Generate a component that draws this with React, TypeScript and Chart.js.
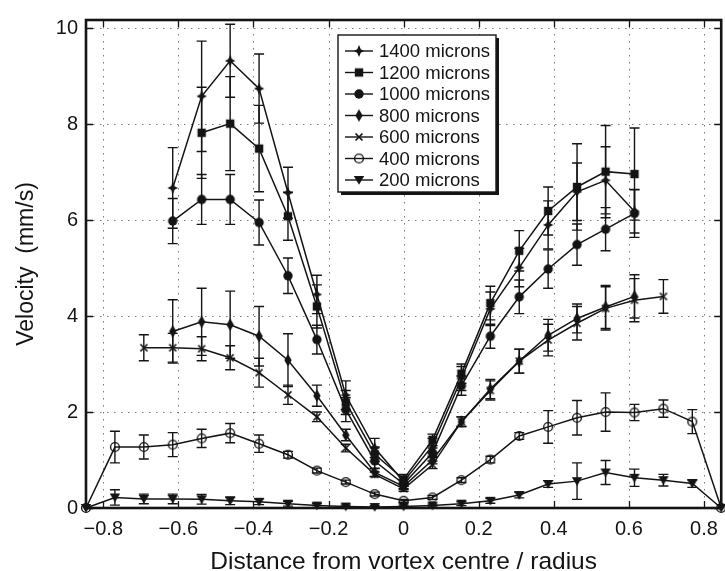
import React, { useEffect, useRef } from "react";
import { Chart, registerables } from "chart.js";

Chart.register(...registerables);

// x positions of the measurement stations (distance / radius)
const xPos = [-0.846, -0.769, -0.692, -0.615, -0.538, -0.462, -0.385, -0.308, -0.231, -0.154, -0.077, 0,
  0.077, 0.154, 0.231, 0.308, 0.385, 0.462, 0.538, 0.615, 0.692, 0.769, 0.846];

const xTicks = [-0.8, -0.6, -0.4, -0.2, 0, 0.2, 0.4, 0.6, 0.8];
const yTicks = [0, 2, 4, 6, 8, 10];

const seriesNames = ["1400 microns", "1200 microns", "1000 microns", "800 microns", "600 microns", "400 microns", "200 microns"];

const v1400 = [null, null, null, 6.67, 8.58, 9.32, 8.74, 6.57, 4.45, 2.35, 1.25, 0.55, 1.30, 2.70, 4.15, 5.01, 5.90, 6.59, 6.83, 6.18, null, null, null];
const e1400 = [null, null, null, 0.84, 1.15, 0.76, 0.72, 0.53, 0.40, 0.30, 0.20, 0.10, 0.15, 0.25, 0.35, 0.40, 0.50, 0.60, 0.70, 0.45, null, null, null];

const v1200 = [null, null, null, null, 7.82, 8.01, 7.49, 6.08, 4.20, 2.20, 1.12, 0.60, 1.42, 2.80, 4.27, 5.36, 6.19, 6.69, 7.01, 6.96, null, null, null];
const e1200 = [null, null, null, null, 0.95, 0.98, 0.90, 0.50, 0.45, 0.25, 0.15, 0.10, 0.12, 0.20, 0.35, 0.42, 0.50, 0.90, 0.96, 0.96, null, null, null];

const v1000 = [null, null, null, 5.98, 6.43, 6.43, 5.95, 4.84, 3.51, 2.05, 0.98, 0.50, 1.15, 2.55, 3.58, 4.40, 4.98, 5.49, 5.81, 6.14, null, null, null];
const e1000 = [null, null, null, 0.47, 0.52, 0.52, 0.47, 0.37, 0.30, 0.25, 0.15, 0.10, 0.10, 0.20, 0.25, 0.35, 0.40, 0.43, 0.45, 0.50, null, null, null];

const v800 = [null, null, null, 3.68, 3.88, 3.82, 3.58, 3.08, 2.34, 1.52, 0.74, 0.45, 1.00, 1.80, 2.48, 3.06, 3.60, 3.95, 4.19, 4.41, null, null, null];
const e800 = [null, null, null, 0.66, 0.70, 0.70, 0.62, 0.55, 0.22, 0.12, 0.08, 0.06, 0.08, 0.10, 0.20, 0.25, 0.33, 0.30, 0.45, 0.45, null, null, null];

const v600 = [null, null, 3.34, 3.34, 3.32, 3.13, 2.82, 2.36, 1.90, 1.25, 0.70, 0.40, 0.90, 1.80, 2.45, 3.06, 3.50, 3.85, 4.16, 4.33, 4.41, null, null];
const e600 = [null, null, 0.27, 0.30, 0.25, 0.25, 0.30, 0.20, 0.10, 0.08, 0.05, 0.05, 0.08, 0.10, 0.20, 0.25, 0.33, 0.35, 0.45, 0.45, 0.35, null, null];

const v400 = [0, 1.27, 1.27, 1.32, 1.45, 1.56, 1.34, 1.11, 0.78, 0.54, 0.29, 0.15, 0.22, 0.58, 1.01, 1.50, 1.69, 1.88, 2.00, 1.99, 2.07, 1.80, 0];
const e400 = [0, 0.33, 0.25, 0.25, 0.19, 0.20, 0.18, 0.07, 0.05, 0.04, 0.04, 0.03, 0.04, 0.05, 0.07, 0.07, 0.34, 0.36, 0.40, 0.17, 0.18, 0.25, 0];

const v200 = [0, 0.22, 0.19, 0.19, 0.18, 0.15, 0.13, 0.09, 0.05, 0.03, 0.02, 0.03, 0.05, 0.09, 0.15, 0.27, 0.50, 0.56, 0.74, 0.63, 0.58, 0.51, 0];
const e200 = [0, 0.16, 0.10, 0.10, 0.10, 0.08, 0.06, 0.05, 0.04, 0.03, 0.03, 0.03, 0.03, 0.04, 0.05, 0.06, 0.07, 0.38, 0.25, 0.18, 0.12, 0.08, 0];

const seriesValues = [v1400, v1200, v1000, v800, v600, v400, v200];
const seriesErrors = [e1400, e1200, e1000, e800, e600, e400, e200];
const markerKinds = ["star4", "square", "disc", "diamondV", "x", "ring", "triDown"];

const INK = "#141414";
const FONT = "'Liberation Sans', Arial, Helvetica, sans-serif";

function makeMarker(kind: string): HTMLCanvasElement {
  const c = document.createElement("canvas");
  c.width = 16;
  c.height = 16;
  const g = c.getContext("2d")!;
  g.translate(8, 8);
  g.fillStyle = INK;
  g.strokeStyle = INK;
  g.lineWidth = 1.4;
  const poly = (pts: number[][]) => {
    g.beginPath();
    pts.forEach((p, i) => (i ? g.lineTo(p[0], p[1]) : g.moveTo(p[0], p[1])));
    g.closePath();
    g.fill();
  };
  switch (kind) {
    case "star4":
      poly([[0, -6], [1.8, -1.8], [5.2, 0], [1.8, 1.8], [0, 6], [-1.8, 1.8], [-5.2, 0], [-1.8, -1.8]]);
      break;
    case "square":
      g.fillRect(-4.2, -4.2, 8.4, 8.4);
      break;
    case "disc":
      g.beginPath();
      g.arc(0, 0, 4.7, 0, Math.PI * 2);
      g.fill();
      break;
    case "diamondV":
      poly([[0, -6.2], [3.7, 0], [0, 6.2], [-3.7, 0]]);
      break;
    case "x":
      g.lineWidth = 1.7;
      g.beginPath();
      g.moveTo(-3.5, -3.5); g.lineTo(3.5, 3.5);
      g.moveTo(3.5, -3.5); g.lineTo(-3.5, 3.5);
      g.stroke();
      break;
    case "ring":
      g.lineWidth = 1.4;
      g.beginPath();
      g.arc(0, 0, 4.4, 0, Math.PI * 2);
      g.stroke();
      break;
    case "triDown":
      poly([[-5.2, -3.9], [5.2, -3.9], [0, 4.7]]);
      break;
  }
  return c;
}

function fmtX(v: number): string {
  if (Math.abs(v) < 1e-9) return "0";
  return (v < 0 ? "\u2212" : "") + Math.abs(v).toFixed(1);
}

export default function App() {
  const ref = useRef<HTMLCanvasElement | null>(null);

  useEffect(() => {
    const canvas = ref.current;
    if (!canvas) return;
    const markers = markerKinds.map(makeMarker);

    const datasets = seriesNames.map((name, i) => {
      const vals = seriesValues[i];
      const errs = seriesErrors[i];
      const data: any[] = [];
      vals.forEach((v, j) => {
        if (v !== null) data.push({ x: xPos[j], y: v, e: errs[j] });
      });
      return {
        label: name,
        data,
        borderColor: INK,
        backgroundColor: INK,
        borderWidth: 1.5,
        pointStyle: markers[i],
        pointRadius: 4,
        pointHoverRadius: 4,
        tension: 0,
        fill: false,
        clip: 6,
      };
    });

    const framePlugin = {
      id: "frame",
      beforeDatasetsDraw(chart: any) {
        const { ctx, chartArea: a, scales } = chart;
        const xs = scales.x, ys = scales.y;
        ctx.save();
        // dotted grid
        ctx.strokeStyle = "#7a7a7a";
        ctx.lineWidth = 1;
        ctx.setLineDash([1.5, 5.5]);
        xTicks.forEach((v) => {
          const px = Math.round(xs.getPixelForValue(v)) + 0.5;
          ctx.beginPath(); ctx.moveTo(px, a.top); ctx.lineTo(px, a.bottom); ctx.stroke();
        });
        yTicks.forEach((v) => {
          const py = Math.round(ys.getPixelForValue(v)) + 0.5;
          ctx.beginPath(); ctx.moveTo(a.left, py); ctx.lineTo(a.right, py); ctx.stroke();
        });
        ctx.setLineDash([]);
        // error bars
        ctx.strokeStyle = INK;
        ctx.lineWidth = 1.4;
        chart.data.datasets.forEach((ds: any, i: number) => {
          const meta = chart.getDatasetMeta(i);
          meta.data.forEach((pt: any, j: number) => {
            const d = ds.data[j];
            if (!d || !d.e) return;
            const px = pt.x;
            const top = ys.getPixelForValue(d.y + d.e);
            const bot = ys.getPixelForValue(Math.max(0, d.y - d.e));
            ctx.beginPath();
            ctx.moveTo(px, top); ctx.lineTo(px, bot);
            ctx.moveTo(px - 5, top); ctx.lineTo(px + 5, top);
            ctx.moveTo(px - 5, bot); ctx.lineTo(px + 5, bot);
            ctx.stroke();
          });
        });
        ctx.restore();
      },
      afterDatasetsDraw(chart: any) {
        const { ctx, chartArea: a, scales } = chart;
        const xs = scales.x, ys = scales.y;
        ctx.save();
        ctx.strokeStyle = INK;
        ctx.lineWidth = 1.3;
        const tl = 7;
        xTicks.forEach((v) => {
          const px = Math.round(xs.getPixelForValue(v)) + 0.5;
          ctx.beginPath();
          ctx.moveTo(px, a.bottom); ctx.lineTo(px, a.bottom - tl);
          ctx.moveTo(px, a.top); ctx.lineTo(px, a.top + tl);
          ctx.stroke();
        });
        yTicks.forEach((v) => {
          const py = Math.round(ys.getPixelForValue(v)) + 0.5;
          ctx.beginPath();
          ctx.moveTo(a.left, py); ctx.lineTo(a.left + tl, py);
          ctx.moveTo(a.right, py); ctx.lineTo(a.right - tl, py);
          ctx.stroke();
        });
        ctx.lineWidth = 2.6;
        ctx.strokeRect(a.left, a.top, a.right - a.left, a.bottom - a.top);
        ctx.restore();
      },
      afterDraw(chart: any) {
        const { ctx } = chart;
        ctx.save();
        // legend box with shadow
        const bx = 338, by = 35, bw = 158, bh = 157;
        ctx.fillStyle = INK;
        ctx.fillRect(bx + 3, by + 3, bw, bh);
        ctx.fillStyle = "#ffffff";
        ctx.fillRect(bx, by, bw, bh);
        ctx.strokeStyle = INK;
        ctx.lineWidth = 1.4;
        ctx.strokeRect(bx, by, bw, bh);
        ctx.font = `18.5px ${FONT}`;
        ctx.textBaseline = "middle";
        ctx.textAlign = "left";
        seriesNames.forEach((name, i) => {
          const y = 51 + i * 21.5;
          ctx.strokeStyle = INK;
          ctx.lineWidth = 1.4;
          ctx.beginPath(); ctx.moveTo(345, y); ctx.lineTo(373, y); ctx.stroke();
          const m = markers[i];
          ctx.drawImage(m, 359 - m.width / 2, y - m.height / 2);
          ctx.fillStyle = INK;
          ctx.fillText(name, 379, y + 1);
        });
        ctx.restore();
      },
    };

    const chart = new Chart(canvas, {
      type: "line",
      data: { datasets } as any,
      options: {
        responsive: false,
        maintainAspectRatio: false,
        animation: false,
        events: [],
        layout: { padding: { top: 11.5, right: 1, left: 0, bottom: 0 } },
        plugins: { legend: { display: false }, tooltip: { enabled: false } },
        scales: {
          x: {
            type: "linear",
            min: -0.846,
            max: 0.846,
            grid: { display: false, drawTicks: false },
            border: { display: false },
            afterBuildTicks: (s: any) => { s.ticks = xTicks.map((v) => ({ value: v })); },
            afterFit: (s: any) => { s.height = 63; },
            ticks: {
              autoSkip: false,
              maxRotation: 0,
              padding: 9,
              color: INK,
              font: { family: FONT, size: 20 },
              callback: (v: any) => fmtX(Number(v)),
            },
            title: {
              display: true,
              text: "Distance from vortex centre / radius",
              color: INK,
              font: { family: FONT, size: 24.5, lineHeight: 0.75 },
              padding: { top: 0, bottom: 0 },
            },
          },
          y: {
            type: "linear",
            min: 0,
            max: 10.17,
            grid: { display: false, drawTicks: false },
            border: { display: false },
            afterBuildTicks: (s: any) => { s.ticks = yTicks.map((v) => ({ value: v })); },
            afterFit: (s: any) => { s.width = 86; },
            ticks: {
              padding: 8,
              color: INK,
              font: { family: FONT, size: 20 },
              callback: (v: any) => String(Math.round(Number(v))),
            },
            title: {
              display: true,
              text: "Velocity  (mm/s)",
              color: INK,
              font: { family: FONT, size: 23 },
              padding: { top: 13, bottom: 0 },
            },
          },
        },
      } as any,
      plugins: [framePlugin],
    });

    return () => chart.destroy();
  }, []);

  return (
    <div style={{ position: "absolute", left: 0, top: 0, width: 725, height: 571, overflow: "hidden", background: "#fff" }}>
      <canvas ref={ref} width={727} height={571} style={{ display: "block", width: 727, height: 571 }} />
    </div>
  );
}
